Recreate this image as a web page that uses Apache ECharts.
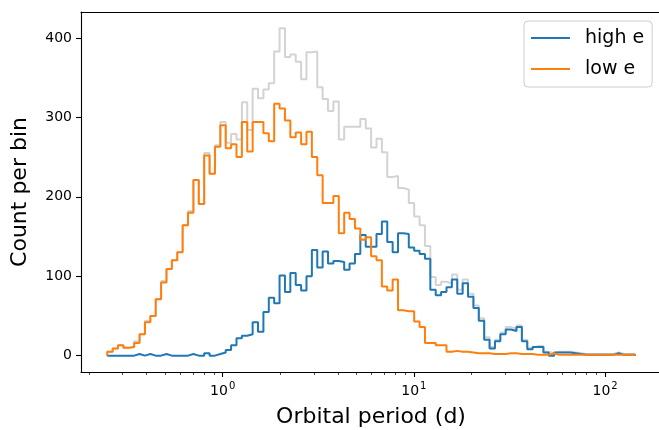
<!DOCTYPE html>
<html><head><meta charset="utf-8">
<script src="https://cdn.jsdelivr.net/npm/echarts@6/dist/echarts.min.js"></script>
<style>html,body{margin:0;padding:0;background:#fff}#c{width:659px;height:430px}</style>
</head><body><div id="c"></div>
<script>
// histogram bin range (log-spaced bins) and counts per bin
const binStart = 0.249, binEnd = 143.3, nBins = 98;
const highE = [
  0,0,0,0,0,2,0,2,0,0,
  2,0,0,0,0,2,0,0,3,0,
  2,4,7,13,22,25,27,42,30,55,
  73,66,101,80,104,89,82,100,133,111,
  131,116,119,118,108,116,128,152,137,137,
  153,169,143,130,154,153,136,132,128,122,
  83,76,80,86,96,78,91,74,60,44,
  20,9,18,27,33,31,36,18,8,11,
  11,4,0,4,4,4,3,2,1,1,
  1,1,1,1,3,1,1,1
];
const lowE = [
  5,9,13,10,11,16,27,42,50,71,
  92,109,120,130,164,180,221,191,252,229,
  263,290,261,266,250,294,257,294,294,280,
  270,317,311,296,275,281,266,282,250,227,
  192,192,201,154,180,172,160,146,149,125,
  120,87,82,96,57,56,56,43,36,16,
  16,13,13,5,6,5,5,4,3,3,
  3,2,2,2,3,3,2,2,2,1,
  1,1,3,1,1,1,1,1,1,1,
  1,1,1,1,1,1,1,1
];
const allE = [
  5,9,13,10,11,18,27,44,50,71,
  94,109,120,130,164,182,221,191,255,229,
  265,294,268,279,272,319,284,336,324,335,
  343,383,412,376,379,370,348,382,383,338,
  323,308,320,272,288,288,288,298,286,262,
  273,256,225,226,211,209,192,175,164,138,
  99,89,93,91,102,83,96,78,63,47,
  23,11,20,29,36,34,38,20,10,12,
  12,5,3,5,5,5,4,3,2,2,
  2,2,2,2,4,2,2,2
];
const xMajorTicks = [1, 10, 100];
const xMinorTicks = [0.2,0.3,0.4,0.5,0.6,0.7,0.8,0.9,2,3,4,5,6,7,8,9,20,30,40,50,60,70,80,90];
const yTicks = [0, 100, 200, 300, 400];
const seriesNames = ['high e', 'low e'];

const lA = Math.log10(binStart), lB = Math.log10(binEnd);
const edges = Array.from({length: nBins + 1}, (_, i) => Math.pow(10, lA + (lB - lA) * i / nBins));
function steps(vals) {
  const d = [[edges[0], 0]];
  vals.forEach((v, i) => d.push([edges[i], v]));
  d.push([edges[nBins], vals[nBins - 1]]);
  d.push([edges[nBins], 0]);
  return d;
}

const FONT = 'DejaVu Sans';
const spine = {color: '#000', width: 1.1};
const X_MIN = 0.1815, X_MAX = 196.1;
const chart = echarts.init(document.getElementById('c'), null, {renderer: 'canvas'});
chart.setOption({
  animation: false,
  textStyle: {fontFamily: FONT, color: '#000'},
  grid: {left: 81, top: 12, width: 580, height: 360, show: false, containLabel: false, outerBoundsMode: 'none'},
  legend: {
    data: seriesNames, orient: 'vertical', left: 524, top: 21,
    icon: 'rect', itemWidth: 39, itemHeight: 2, itemGap: 11, padding: [7, 8, 8, 7],
    textStyle: {fontSize: 19, fontFamily: FONT, color: '#000', padding: [0, 0, 0, 10], lineHeight: 20},
    backgroundColor: 'rgba(255,255,255,0.8)', borderColor: '#cccccc', borderWidth: 1, borderRadius: 4,
    selectedMode: false
  },
  xAxis: [{
    type: 'log', logBase: 10, min: X_MIN, max: X_MAX, position: 'bottom',
    axisLine: {show: true, onZero: false, lineStyle: spine},
    axisTick: {show: true, customValues: xMajorTicks, length: 5, lineStyle: spine},
    axisLabel: {
      customValues: xMajorTicks, margin: 8, color: '#000',
      formatter: v => '{a|10}{b|' + Math.round(Math.log10(v)) + '}',
      rich: {
        a: {fontSize: 14, fontFamily: FONT, color: '#000', lineHeight: 18, verticalAlign: 'bottom'},
        b: {fontSize: 10, fontFamily: FONT, color: '#000', lineHeight: 18, verticalAlign: 'bottom', padding: [0, 0, 7, 1]}
      }
    },
    splitLine: {show: false}, minorTick: {show: false},
    name: 'Orbital period (d)', nameLocation: 'middle', nameGap: 34,
    nameTextStyle: {fontSize: 22, fontFamily: FONT, color: '#000'}
  }, {
    type: 'log', logBase: 10, min: X_MIN, max: X_MAX, position: 'bottom',
    axisLine: {show: false, onZero: false},
    axisTick: {show: true, customValues: xMinorTicks, length: 2.8, lineStyle: {color: '#000', width: 0.8}},
    axisLabel: {show: false}, splitLine: {show: false}
  }, {
    type: 'log', logBase: 10, min: X_MIN, max: X_MAX, position: 'top',
    axisLine: {show: true, onZero: false, lineStyle: spine},
    axisTick: {show: false}, axisLabel: {show: false}, splitLine: {show: false}
  }],
  yAxis: {
    type: 'value', min: -20.6, max: 432.6,
    axisLine: {show: true, onZero: false, lineStyle: spine},
    axisTick: {show: true, customValues: yTicks, length: 5, lineStyle: spine},
    axisLabel: {customValues: yTicks, fontSize: 14, fontFamily: FONT, color: '#000', margin: 9},
    splitLine: {show: false},
    name: 'Count per bin', nameLocation: 'middle', nameGap: 50, nameRotate: 90,
    nameTextStyle: {fontSize: 22, fontFamily: FONT, color: '#000'}
  },
  series: [
    {name: 'all', type: 'line', step: 'end', data: steps(allE), symbol: 'none', silent: true,
     lineStyle: {color: '#d3d3d3', width: 2}, itemStyle: {color: '#d3d3d3'}, z: 1},
    {name: seriesNames[0], type: 'line', step: 'end', data: steps(highE), symbol: 'none', silent: true,
     lineStyle: {color: '#1f77b4', width: 2}, itemStyle: {color: '#1f77b4'}, z: 2},
    {name: seriesNames[1], type: 'line', step: 'end', data: steps(lowE), symbol: 'none', silent: true,
     lineStyle: {color: '#ff7f0e', width: 2}, itemStyle: {color: '#ff7f0e'}, z: 3}
  ]
});
</script></body></html>
